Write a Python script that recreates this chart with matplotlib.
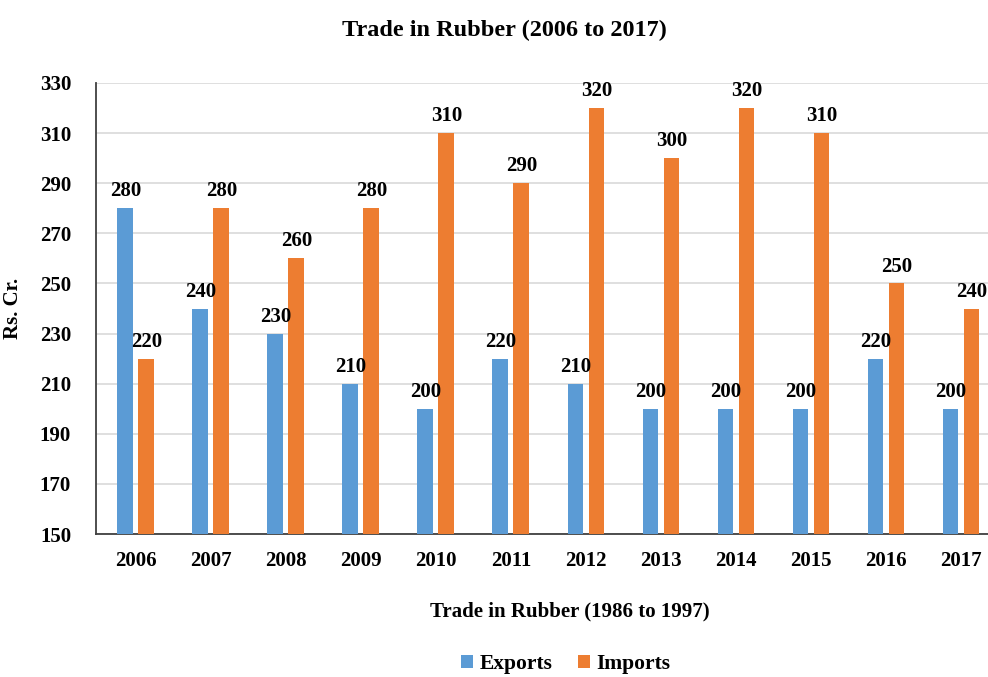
import matplotlib
matplotlib.use("Agg")
import matplotlib.pyplot as plt
import numpy as np

years = ["2006", "2007", "2008", "2009", "2010", "2011", "2012", "2013", "2014", "2015", "2016", "2017"]
exports = [280, 240, 230, 210, 200, 220, 210, 200, 200, 200, 220, 200]
imports = [220, 280, 260, 280, 310, 290, 320, 300, 320, 310, 250, 240]
yticks = [150, 170, 190, 210, 230, 250, 270, 290, 310, 330]

plt.rcParams['font.family'] = ['Liberation Serif', 'DejaVu Serif']
plt.rcParams['font.weight'] = 'bold'

fig = plt.figure(figsize=(9.88, 6.77), dpi=100)
ax = fig.add_axes([96/988, 1-534/677, 1-96/988, (534-83)/677])

x = np.arange(len(years))
w = 0.21
off = 0.14
blue = "#5B9BD5"
orange = "#ED7D31"
ax.bar(x - off, exports, w, color=blue, label="Exports", zorder=3)
ax.bar(x + off, imports, w, color=orange, label="Imports", zorder=3)

for xi, v in zip(x, exports):
    ax.annotate(str(v), (xi - off, v), xytext=(0, 5), textcoords="offset points",
                ha="center", va="bottom", fontsize=15, fontweight="bold", zorder=4)
for xi, v in zip(x, imports):
    ax.annotate(str(v), (xi + off, v), xytext=(0, 5), textcoords="offset points",
                ha="center", va="bottom", fontsize=15, fontweight="bold", zorder=4)

ax.set_ylim(150, 330)
ax.set_yticks(yticks)
ax.set_xlim(-0.53, 11.36)
ax.set_xticks(x)
ax.set_xticklabels(years)
ax.tick_params(axis='both', length=0, labelsize=15, pad=12)
ax.tick_params(axis='y', pad=18)
ax.grid(axis='y', color="#D9D9D9", linewidth=1.2, zorder=0)
for s in ["top", "right"]:
    ax.spines[s].set_visible(False)
ax.spines["left"].set_color("#404040")
ax.spines["bottom"].set_color("#404040")
ax.spines["left"].set_linewidth(1.3)
ax.spines["bottom"].set_linewidth(1.3)

ax.set_ylabel("Rs. Cr.", fontsize=15, fontweight="bold", labelpad=12)
fig.text(504/988, 1-30/677, "Trade in Rubber (2006 to 2017)", ha="center", va="center",
         fontsize=17.5, fontweight="bold")
fig.text(570/988, 1-611/677, "Trade in Rubber (1986 to 1997)", ha="center", va="center",
         fontsize=15, fontweight="bold")
fig.legend(handles=ax.patches[:1] + ax.patches[12:13], labels=["Exports", "Imports"],
           loc="center", bbox_to_anchor=(566/988, 1-664/677), ncol=2, frameon=False,
           fontsize=15.5, handlelength=0.55, handleheight=0.55, handletextpad=0.3, columnspacing=1.2)

fig.savefig("out.png", dpi=100)
